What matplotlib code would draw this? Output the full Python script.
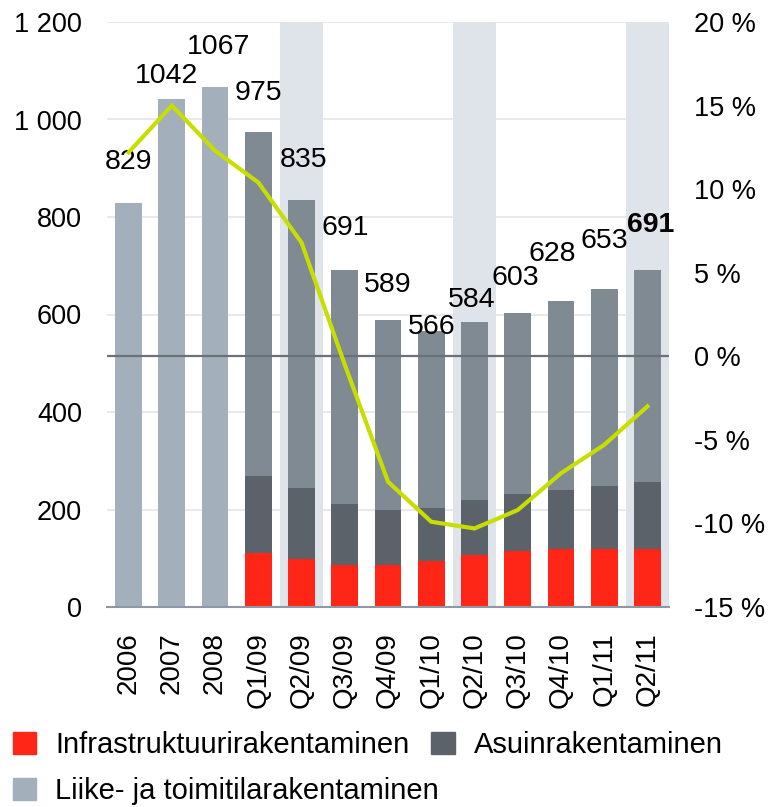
import matplotlib
matplotlib.use("Agg")
import matplotlib.pyplot as plt
import matplotlib.ticker as ticker
from matplotlib.patches import Patch

plt.rcParams['font.family'] = ['Liberation Sans', 'DejaVu Sans']

periods = ['2006', '2007', '2008', 'Q1/09', 'Q2/09', 'Q3/09', 'Q4/09',
           'Q1/10', 'Q2/10', 'Q3/10', 'Q4/10', 'Q1/11', 'Q2/11']
totals = [829, 1042, 1067, 975, 835, 691, 589, 566, 584, 603, 628, 653, 691]

# quarterly breakdown (annual bars are not split)
quarters = periods[3:]
infra = [111, 98, 86, 86, 94, 107, 115, 119, 119, 119]
asuin = [158, 146, 125, 113, 109, 112, 117, 121, 129, 137]

change_pct = [12.2, 15.0, 12.3, 10.4, 6.8, -0.5, -7.5, -9.9, -10.3, -9.2, -7.0, -5.3, -3.0]

highlight = ['Q2/09', 'Q2/10', 'Q2/11']

# label offsets in pixels (dx, dy above bar top)
label_dx = [0, -5, 3, 0, 2, 0, 0, 0, -3, -2, -9, 0, 3]
label_dy = [41, 23, 40, 39, 40, 42, 35, 4, 22, 35, 47, 48, 45]

c_infra = '#ff2617'
c_asuin = '#5b6269'
c_liike = '#a3b0bc'
c_quarter_top = '#7f8a93'
c_band = '#dfe3ea'
c_line = '#c8de00'

fig = plt.figure(figsize=(7.75, 8.07), dpi=100)
ax = fig.add_axes([107 / 775, 200 / 807, 562 / 775, 585 / 807])

x = list(range(len(periods)))
xq = x[3:]
width = 0.62

for name in highlight:
    i = periods.index(name)
    ax.axvspan(i - 0.5, i + 0.5, color=c_band, lw=0, zorder=0.6)

ax.bar(x[:3], totals[:3], width, color=c_liike, zorder=2)
liike_q = [t - a - b for t, a, b in zip(totals[3:], infra, asuin)]
bottom_q = [a + b for a, b in zip(infra, asuin)]
ax.bar(xq, infra, width, color=c_infra, zorder=2)
ax.bar(xq, asuin, width, bottom=infra, color=c_asuin, zorder=2)
ax.bar(xq, liike_q, width, bottom=bottom_q, color=c_quarter_top, zorder=2)

ax.set_xlim(-0.5, len(periods) - 0.5)
ax.set_ylim(0, 1200)
ax.yaxis.set_major_locator(ticker.MultipleLocator(200))
ax.yaxis.set_major_formatter(ticker.FuncFormatter(lambda v, p: f'{int(v):,}'.replace(',', ' ')))
ax.set_axisbelow(True)
ax.grid(axis='y', color='#e5e7ee', lw=1.3)
ax.set_xticks(x)
ax.set_xticklabels(periods, rotation=90, fontsize=20)
ax.tick_params(axis='x', length=0, pad=18)
ax.tick_params(axis='y', length=0, pad=18, labelsize=19.5)
for s in ['left', 'right', 'top']:
    ax.spines[s].set_visible(False)
ax.spines['bottom'].set_color('#8d98a4')
ax.spines['bottom'].set_linewidth(1.5)

for i, t in enumerate(totals):
    bold = i == len(totals) - 1
    ax.annotate(str(t), (i, t), xytext=(label_dx[i] * 0.72, label_dy[i] * 0.72),
                textcoords='offset points', ha='center', va='center',
                fontsize=20.5, fontweight='bold' if bold else 'normal', zorder=6)

ax2 = ax.twinx()
ax2.set_ylim(-15, 20)
ax2.yaxis.set_major_locator(ticker.MultipleLocator(5))
ax2.yaxis.set_major_formatter(ticker.FuncFormatter(lambda v, p: f'{int(v)} %'))
ax2.tick_params(axis='y', length=0, pad=18, labelsize=19.5)
for s in ax2.spines.values():
    s.set_visible(False)
ax2.axhline(0, color='#6b7177', lw=1.6, zorder=1)
ax2.plot(x, change_pct, color=c_line, lw=3, zorder=3, solid_joinstyle='miter')

leg_font = {'size': 21}
h1 = [Patch(color=c_infra, label='Infrastruktuurirakentaminen'),
      Patch(color=c_asuin, label='Asuinrakentaminen')]
h2 = [Patch(color=c_liike, label='Liike- ja toimitilarakentaminen')]
fig.legend(handles=h1, loc='center left', bbox_to_anchor=(13 / 775, 1 - 745 / 807),
           ncol=2, frameon=False, prop=leg_font, borderpad=0, borderaxespad=0,
           handlelength=0.8, handleheight=0.8, handletextpad=0.65, columnspacing=0.75)
fig.legend(handles=h2, loc='center left', bbox_to_anchor=(13 / 775, 1 - 791 / 807),
           frameon=False, prop=leg_font, borderpad=0, borderaxespad=0,
           handlelength=0.8, handleheight=0.8, handletextpad=0.65)

fig.savefig('out.png', dpi=100)
